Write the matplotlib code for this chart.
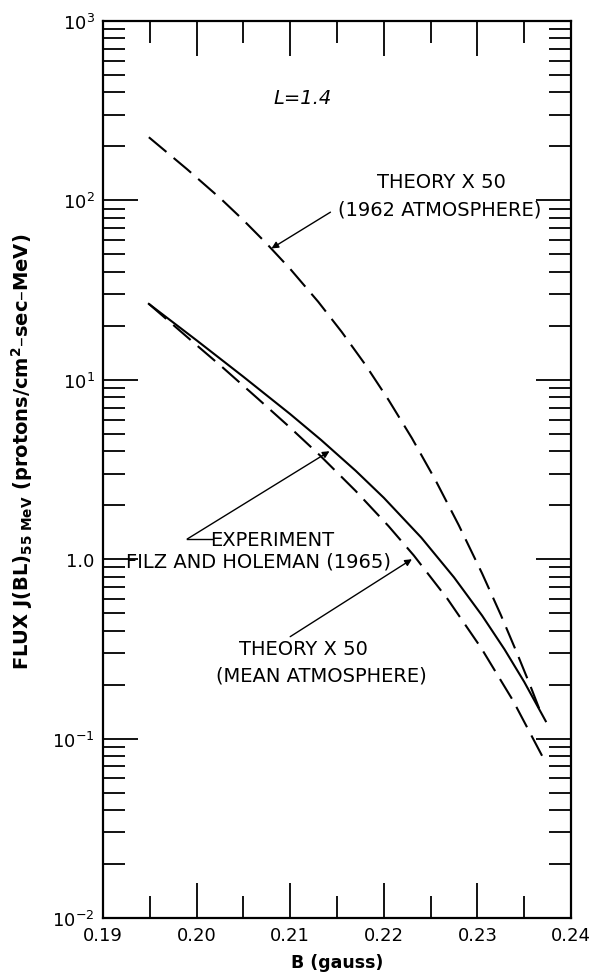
import matplotlib
matplotlib.use("Agg")
import matplotlib.pyplot as plt
from matplotlib.ticker import FixedLocator, FixedFormatter, LogLocator, MultipleLocator, NullFormatter

# Magnetic field B (gauss) and flux values for each curve
b_experiment = [0.1949, 0.200, 0.205, 0.210, 0.2133, 0.217, 0.220, 0.224,
                0.2275, 0.2305, 0.2329, 0.235, 0.2373]
flux_experiment = [26.5, 16.6, 10.4, 6.44, 4.62, 3.11, 2.20, 1.32,
                   0.792, 0.485, 0.314, 0.207, 0.125]

b_theory_mean = [0.1949, 0.200, 0.2028, 0.2065, 0.210, 0.2132, 0.217, 0.2205,
                 0.2232, 0.2268, 0.2304, 0.2338, 0.2372]
flux_theory_mean = [26.5, 15.6, 11.7, 7.89, 5.41, 3.78, 2.40, 1.53,
                    1.05, 0.601, 0.320, 0.163, 0.075]

b_theory_1962 = [0.1949, 0.199, 0.2026, 0.205, 0.2075, 0.210, 0.213, 0.2155,
                 0.218, 0.2205, 0.223, 0.2255, 0.228, 0.2305, 0.2325, 0.2342,
                 0.2356, 0.2369]
flux_theory_1962 = [225.0, 149.0, 102.0, 77.6, 57.3, 41.5, 27.2, 18.5,
                    12.2, 7.73, 4.73, 2.77, 1.55, 0.833, 0.489, 0.302,
                    0.200, 0.134]

x_ticks = [0.19, 0.20, 0.21, 0.22, 0.23, 0.24]
x_tick_labels = ["0.19", "0.20", "0.21", "0.22", "0.23", "0.24"]
y_ticks = [1e-2, 1e-1, 1.0, 1e1, 1e2, 1e3]
y_tick_labels = [r"$10^{-2}$", r"$10^{-1}$", "1.0", r"$10^{1}$", r"$10^{2}$", r"$10^{3}$"]

fig = plt.figure(figsize=(5.97, 9.79), dpi=100)
ax = fig.add_axes([0.1725, 0.0613, 0.784, 0.9162])

dash = (11, 4.5)
ax.plot(b_experiment, flux_experiment, color="black", lw=1.5)
ax.plot(b_theory_mean, flux_theory_mean, color="black", lw=1.5, dashes=dash)
ax.plot(b_theory_1962, flux_theory_1962, color="black", lw=1.5, dashes=dash)

ax.set_yscale("log")
ax.set_xlim(0.19, 0.24)
ax.set_ylim(1e-2, 1e3)

ax.xaxis.set_major_locator(FixedLocator(x_ticks))
ax.xaxis.set_major_formatter(FixedFormatter(x_tick_labels))
ax.xaxis.set_minor_locator(MultipleLocator(0.005))
ax.yaxis.set_major_locator(FixedLocator(y_ticks))
ax.yaxis.set_major_formatter(FixedFormatter(y_tick_labels))
ax.yaxis.set_minor_locator(LogLocator(base=10, subs=range(2, 10)))
ax.yaxis.set_minor_formatter(NullFormatter())

ax.tick_params(which="both", direction="in", top=True, right=True, width=1.3, colors="black")
ax.tick_params(which="major", length=25, labelsize=13, pad=6)
ax.tick_params(which="minor", length=16)
for s in ax.spines.values():
    s.set_linewidth(1.6)

ax.set_xlabel("B (gauss)", fontsize=12.5, fontweight="bold", labelpad=6)
ax.set_ylabel(r"FLUX J(BL)$_{\mathbf{55\ MeV}}$ (protons/cm$^{\mathbf{2}}$–sec–MeV)",
              fontsize=14, fontweight="bold")
ax.yaxis.set_label_coords(-0.145, 0.521)

txt = dict(fontsize=14, color="black", va="center")
arrow = dict(arrowstyle="-|>", color="black", lw=1.0, mutation_scale=10, shrinkA=0, shrinkB=0)

ax.text(0.2082, 377, "L=1.4", fontsize=14, style="italic", ha="left", va="center")

# 1962 atmosphere label and leader
ax.text(0.2262, 127, "THEORY X 50", ha="center", **txt)
ax.text(0.2260, 89.5, "(1962 ATMOSPHERE)", ha="center", **txt)
ax.annotate("", xy=(0.2080, 54), xytext=(0.2143, 86), arrowprops=arrow)

# experiment label and leader
ax.text(0.2081, 1.296, "EXPERIMENT", ha="center", **txt)
ax.text(0.2066, 0.977, "FILZ AND HOLEMAN (1965)", ha="center", **txt)
ax.plot([0.1990, 0.20165], [1.296, 1.296], color="black", lw=1.0)
ax.annotate("", xy=(0.2142, 4.0), xytext=(0.1990, 1.296), arrowprops=arrow)

# mean atmosphere label and leader
ax.text(0.2114, 0.316, "THEORY X 50", ha="center", **txt)
ax.text(0.2133, 0.226, "(MEAN ATMOSPHERE)", ha="center", **txt)
ax.annotate("", xy=(0.2230, 1.0), xytext=(0.2100, 0.370), arrowprops=arrow)

fig.savefig("out.png", dpi=100)
